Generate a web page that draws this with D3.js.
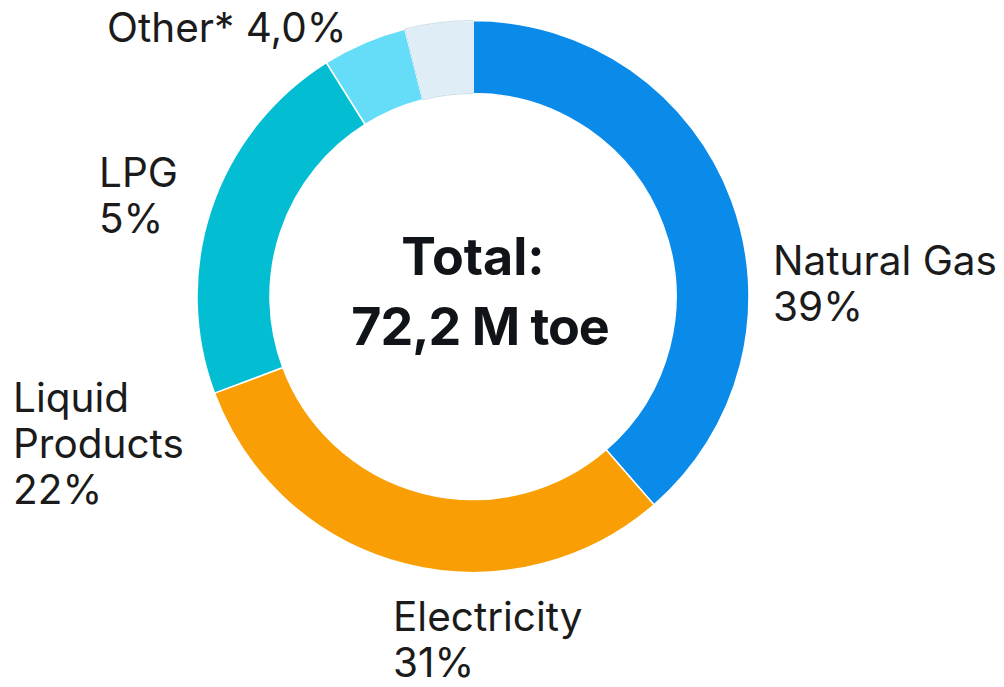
<!DOCTYPE html>
<html>
<head>
<meta charset="utf-8">
<script src="https://cdn.jsdelivr.net/npm/d3@7"></script>
<style>
  html, body { margin: 0; padding: 0; background: #ffffff; }
  svg { display: block; }
  .lbl { font-family: Inter, "Noto Sans", sans-serif; font-weight: 400; fill: #1b1b1b; }
  .total { font-family: Inter, "Noto Sans", sans-serif; font-weight: 700; fill: #101418; }
</style>
</head>
<body>
<svg id="chart" width="1004" height="687"></svg>
<script>
// Final energy consumption by source (share of total, %)
const categories = ["Natural Gas", "Electricity", "Liquid Products", "LPG", "Other*"];
const shares = [39, 31, 22, 5, 4.0];
const shareLabels = ["39%", "31%", "22%", "5%", "4,0%"];
const colors = ["#0a8be9", "#f99e05", "#03bdd3", "#65ddf8", "#dfeef6"];
const totalLines = ["Total:", "72,2 M toe"];

// Label text placement (left x, first baseline, line gap) and line breaks
const labelLayout = [
  { lines: ["Natural Gas", "{v}"], x: 773, y: 275, gap: 46 },
  { lines: ["Electricity", "{v}"], x: 393, y: 631, gap: 46 },
  { lines: ["Liquid", "Products", "{v}"], x: 13, y: 412, gap: 46 },
  { lines: ["LPG", "{v}"], x: 99, y: 187, gap: 46 },
  { lines: ["Other* {v}"], x: 107, y: 42, gap: 46 }
];

const cx = 473, cy = 296.5;
const outerR = 276, innerR = 203;

const svg = d3.select("#chart");
const data = categories.map((c, i) => ({ category: c, share: shares[i], label: shareLabels[i], color: colors[i] }));

const pie = d3.pie().sort(null).value(d => d.share).startAngle(0).endAngle(2 * Math.PI);
const arc = d3.arc().innerRadius(innerR).outerRadius(outerR);

const g = svg.append("g").attr("transform", `translate(${cx},${cy})`);
g.selectAll("path.slice")
  .data(pie(data))
  .join("path")
  .attr("class", "slice")
  .attr("d", arc)
  .attr("fill", d => d.data.color)
  .attr("stroke", "#ffffff")
  .attr("stroke-width", 1.5);

// thin outline around the pale slice so it stands out on white
g.selectAll("path.edge")
  .data(pie(data).filter(d => d.data.category === "Other*"))
  .join("path")
  .attr("class", "edge")
  .attr("d", arc)
  .attr("fill", "none")
  .attr("stroke", "#c9dde8")
  .attr("stroke-width", 1);

// category labels
data.forEach((d, i) => {
  const L = labelLayout[i];
  const t = svg.append("text").attr("class", "lbl").attr("font-size", 40.5);
  L.lines.forEach((ln, k) => {
    t.append("tspan")
      .attr("x", L.x)
      .attr("y", L.y + k * L.gap)
      .text(ln.replace("{v}", d.label));
  });
});

// centre total
svg.append("text").attr("class", "total")
  .attr("x", cx).attr("y", 275)
  .attr("text-anchor", "middle").attr("font-size", 52)
  .text(totalLines[0]);
svg.append("text").attr("class", "total")
  .attr("x", cx + 7).attr("y", 345)
  .attr("text-anchor", "middle").attr("font-size", 52)
  .attr("letter-spacing", -1)
  .text(totalLines[1]);
</script>
</body>
</html>
